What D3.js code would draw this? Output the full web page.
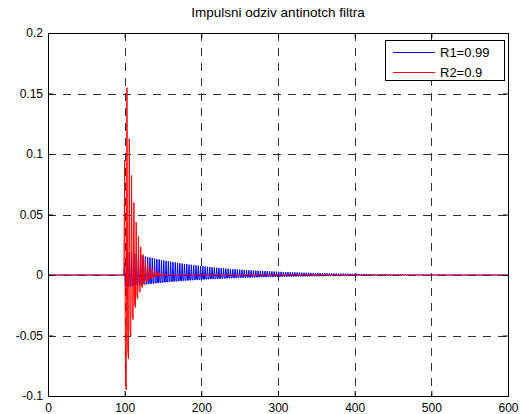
<!DOCTYPE html>
<html><head><meta charset="utf-8">
<script src="https://cdn.jsdelivr.net/npm/d3@7"></script>
<style>
body{margin:0;background:#fff}
svg{display:block}
text{font-family:Arial,"Liberation Sans",Helvetica,sans-serif;fill:#000}
</style>
</head><body>
<svg id="chart" width="524" height="414"></svg>
<script>
// ---------- data ----------
const chartTitle = "Impulsni odziv antinotch filtra";
const seriesNames = ["R1=0.99", "R2=0.9"];
const seriesColors = ["#0000ff", "#ff0000"];
const sampleDomain = [0, 600];
const valueDomain = [-0.1, 0.2];
const impulseIndex = 100;
const xTicks = [0, 100, 200, 300, 400, 500, 600];
const xTickLabels = ["0", "100", "200", "300", "400", "500", "600"];
const yTicks = [-0.1, -0.05, 0, 0.05, 0.1, 0.15, 0.2];
const yTickLabels = ["-0.1", "-0.05", "0", "0.05", "0.1", "0.15", "0.2"];

// response of R1 = 0.99, starting at the impulse sample (n = 100)
const r1Response = [
0.00995,-0.00985,-0.00995, 0.01951,-0.00956,-0.00965, 0.01893,-0.00927,-0.00937, 0.01836,-0.00900,-0.00909,
0.01782,-0.00873,-0.00882, 0.01729,-0.00847,-0.00856, 0.01678,-0.00822,-0.00830, 0.01628,-0.00798,-0.00806,
0.01579,-0.00774,-0.00782, 0.01532,-0.00751,-0.00759, 0.01487,-0.00729,-0.00736, 0.01443,-0.00707,-0.00714,
0.01400,-0.00686,-0.00693, 0.01358,-0.00666,-0.00672, 0.01318,-0.00646,-0.00652, 0.01279,-0.00627,-0.00633,
0.01241,-0.00608,-0.00614, 0.01204,-0.00590,-0.00596, 0.01168,-0.00573,-0.00578, 0.01134,-0.00556,-0.00561,
0.01100,-0.00539,-0.00544, 0.01067,-0.00523,-0.00528, 0.01036,-0.00507,-0.00513, 0.01005,-0.00492,-0.00497,
0.00975,-0.00478,-0.00483, 0.00946,-0.00464,-0.00468, 0.00918,-0.00450,-0.00454, 0.00891,-0.00436,-0.00441,
0.00864,-0.00423,-0.00428, 0.00839,-0.00411,-0.00415, 0.00814,-0.00399,-0.00403, 0.00789,-0.00387,-0.00391,
0.00766,-0.00375,-0.00379, 0.00743,-0.00364,-0.00368, 0.00721,-0.00353,-0.00357, 0.00700,-0.00343,-0.00346,
0.00679,-0.00333,-0.00336, 0.00659,-0.00323,-0.00326, 0.00639,-0.00313,-0.00316, 0.00620,-0.00304,-0.00307,
0.00602,-0.00295,-0.00298, 0.00584,-0.00286,-0.00289, 0.00567,-0.00278,-0.00280, 0.00550,-0.00269,-0.00272,
0.00534,-0.00261,-0.00264, 0.00518,-0.00254,-0.00256, 0.00502,-0.00246,-0.00249, 0.00487,-0.00239,-0.00241,
0.00473,-0.00232,-0.00234, 0.00459,-0.00225,-0.00227, 0.00445,-0.00218,-0.00220, 0.00432,-0.00212,-0.00214,
0.00419,-0.00205,-0.00207, 0.00407,-0.00199,-0.00201, 0.00395,-0.00193,-0.00195, 0.00383,-0.00188,-0.00190,
0.00372,-0.00182,-0.00184, 0.00361,-0.00177,-0.00178, 0.00350,-0.00171,-0.00173, 0.00339,-0.00166,-0.00168,
0.00329,-0.00161,-0.00163, 0.00320,-0.00157,-0.00158, 0.00310,-0.00152,-0.00153, 0.00301,-0.00147,-0.00149,
0.00292,-0.00143,-0.00144, 0.00283,-0.00139,-0.00140, 0.00275,-0.00135,-0.00136, 0.00267,-0.00131,-0.00132,
0.00259,-0.00127,-0.00128, 0.00251,-0.00123,-0.00124, 0.00244,-0.00119,-0.00121, 0.00236,-0.00116,-0.00117,
0.00229,-0.00112,-0.00114, 0.00223,-0.00109,-0.00110, 0.00216,-0.00106,-0.00107, 0.00209,-0.00103,-0.00104,
0.00203,-0.00100,-0.00101, 0.00197,-0.00097,-0.00098, 0.00191,-0.00094,-0.00095, 0.00186,-0.00091,-0.00092,
0.00180,-0.00088,-0.00089, 0.00175,-0.00086,-0.00087, 0.00170,-0.00083,-0.00084, 0.00165,-0.00081,-0.00081,
0.00160,-0.00078,-0.00079, 0.00155,-0.00076,-0.00077, 0.00150,-0.00074,-0.00074, 0.00146,-0.00072,-0.00072,
0.00142,-0.00069,-0.00070, 0.00137,-0.00067,-0.00068, 0.00133,-0.00065,-0.00066, 0.00129,-0.00063,-0.00064,
0.00125,-0.00061,-0.00062, 0.00122,-0.00060,-0.00060, 0.00118,-0.00058,-0.00059, 0.00115,-0.00056,-0.00057,
0.00111,-0.00055,-0.00055, 0.00108,-0.00053,-0.00053, 0.00105,-0.00051,-0.00052, 0.00102,-0.00050,-0.00050,
0.00099,-0.00048,-0.00049, 0.00096,-0.00047,-0.00047, 0.00093,-0.00045,-0.00046, 0.00090,-0.00044,-0.00045,
0.00087,-0.00043,-0.00043, 0.00085,-0.00042,-0.00042, 0.00082,-0.00040,-0.00041, 0.00080,-0.00039,-0.00040,
0.00078,-0.00038,-0.00038, 0.00075,-0.00037,-0.00037, 0.00073,-0.00036,-0.00036, 0.00071,-0.00035,-0.00035,
0.00069,-0.00034,-0.00034, 0.00067,-0.00033,-0.00033, 0.00065,-0.00032,-0.00032, 0.00063,-0.00031,-0.00031,
0.00061,-0.00030,-0.00030, 0.00059,-0.00029,-0.00029, 0.00057,-0.00028,-0.00028, 0.00056,-0.00027,-0.00028,
0.00054,-0.00026,-0.00027, 0.00052,-0.00026,-0.00026, 0.00051,-0.00025,-0.00025, 0.00049,-0.00024,-0.00024,
0.00048,-0.00023,-0.00024, 0.00046,-0.00023,-0.00023, 0.00045,-0.00022,-0.00022, 0.00044,-0.00021,-0.00022,
0.00042,-0.00021,-0.00021, 0.00041,-0.00020,-0.00020, 0.00040,-0.00020,-0.00020, 0.00039,-0.00019,-0.00019,
0.00038,-0.00018,-0.00019, 0.00036,-0.00018,-0.00018, 0.00035,-0.00017,-0.00018, 0.00034,-0.00017,-0.00017,
0.00033,-0.00016,-0.00017, 0.00032,-0.00016,-0.00016, 0.00031,-0.00015,-0.00016, 0.00030,-0.00015,-0.00015,
0.00030,-0.00014,-0.00015, 0.00029,-0.00014,-0.00014, 0.00028,-0.00014,-0.00014, 0.00027,-0.00013,-0.00013,
0.00026,-0.00013,-0.00013, 0.00025,-0.00012,-0.00013, 0.00025,-0.00012,-0.00012, 0.00024,-0.00012,-0.00012,
0.00023,-0.00011,-0.00011, 0.00022,-0.00011,-0.00011, 0.00022,-0.00011,-0.00011, 0.00021,-0.00010,-0.00010,
0.00020,-0.00010,-0.00010, 0.00020,-0.00010,-0.00010, 0.00019,-0.00009,-0.00010, 0.00019,-0.00009,-0.00009,
0.00018,-0.00009,-0.00009, 0.00018,-0.00009,-0.00009, 0.00017,-0.00008,-0.00008, 0.00017,-0.00008,-0.00008,
0.00016,-0.00008,-0.00008, 0.00016,-0.00008,-0.00008, 0.00015,-0.00007,-0.00007, 0.00015,-0.00007,-0.00007,
0.00014,-0.00007,-0.00007, 0.00014,-0.00007,-0.00007, 0.00013,-0.00007,-0.00007
];

// response of R2 = 0.9, starting at the impulse sample (n = 100)
const r2Response = [
0.09500,-0.08550,-0.09500, 0.15476,-0.06233,-0.06926, 0.11282,-0.04544,-0.05049,
0.08224,-0.03312,-0.03680, 0.05996,-0.02415,-0.02683, 0.04371,-0.01760,-0.01956,
0.03186,-0.01283,-0.01426, 0.02323,-0.00936,-0.01039, 0.01693,-0.00682,-0.00758,
0.01234,-0.00497,-0.00552, 0.00900,-0.00362,-0.00403, 0.00656,-0.00264,-0.00294,
0.00478,-0.00193,-0.00214, 0.00349,-0.00140,-0.00156, 0.00254,-0.00102,-0.00114,
0.00185,-0.00075,-0.00083, 0.00135,-0.00054,-0.00060, 0.00098,-0.00040,-0.00044,
0.00072,-0.00029,-0.00032, 0.00052,-0.00021,-0.00023, 0.00038,-0.00015,-0.00017
];

// ---------- layout ----------
const plot = {left: 48, right: 508, top: 33, bottom: 396};
const svg = d3.select("#chart");
const x = d3.scaleLinear().domain(sampleDomain).range([plot.left, plot.right]);
const y = d3.scaleLinear().domain(valueDomain).range([plot.bottom, plot.top]);

svg.append("rect").attr("width", 524).attr("height", 414).attr("fill", "#fff");

// grid
const grid = svg.append("g").attr("stroke", "#000").attr("stroke-width", 1)
  .attr("stroke-dasharray", "8,7").attr("shape-rendering", "crispEdges").attr("opacity", 0.8);
grid.selectAll("line.v").data(xTicks.slice(1, -1)).join("line")
  .attr("x1", d => Math.round(x(d)) + 0.5).attr("x2", d => Math.round(x(d)) + 0.5)
  .attr("y1", plot.top).attr("y2", plot.bottom);
grid.selectAll("line.h").data(yTicks.slice(1, -1)).join("line")
  .attr("y1", d => Math.round(y(d)) + 0.5).attr("y2", d => Math.round(y(d)) + 0.5)
  .attr("x1", plot.left).attr("x2", plot.right);

// series
function samples(resp) {
  const pts = [];
  for (let n = sampleDomain[0]; n <= sampleDomain[1]; n++) {
    const k = n - impulseIndex;
    pts.push([n, (k >= 0 && k < resp.length) ? resp[k] : 0]);
  }
  return pts;
}
const line = d3.line().x(d => x(d[0])).y(d => y(d[1]));
[r1Response, r2Response].forEach((resp, i) => {
  svg.append("path").datum(samples(resp))
    .attr("d", line).attr("fill", "none")
    .attr("stroke", seriesColors[i]).attr("stroke-width", 1);
});

// axes (ticks inward on all four sides)
const fontSize = 12;
const xb = svg.append("g").attr("transform", `translate(0,${plot.bottom})`)
  .call(d3.axisBottom(x).tickValues(xTicks).tickFormat((d, i) => xTickLabels[i])
    .tickSizeInner(-5).tickSizeOuter(0).tickPadding(7));
const yl = svg.append("g").attr("transform", `translate(${plot.left},0)`)
  .call(d3.axisLeft(y).tickValues(yTicks).tickFormat((d, i) => yTickLabels[i])
    .tickSizeInner(-5).tickSizeOuter(0).tickPadding(5));
const xt = svg.append("g").attr("transform", `translate(0,${plot.top})`)
  .call(d3.axisTop(x).tickValues(xTicks).tickFormat("").tickSizeInner(-5).tickSizeOuter(0));
const yr = svg.append("g").attr("transform", `translate(${plot.right},0)`)
  .call(d3.axisRight(y).tickValues(yTicks).tickFormat("").tickSizeInner(-5).tickSizeOuter(0));
[xb, yl, xt, yr].forEach(g => {
  g.select(".domain").remove();
  g.selectAll("line").attr("stroke", "#000");
  g.selectAll("text").attr("font-size", fontSize).attr("fill", "#000")
    .attr("font-family", "Arial, 'Liberation Sans', sans-serif");
});

// box
svg.append("rect").attr("x", plot.left + 0.5).attr("y", plot.top + 0.5)
  .attr("width", plot.right - plot.left).attr("height", plot.bottom - plot.top)
  .attr("fill", "none").attr("stroke", "#000").attr("stroke-width", 1);

// title
svg.append("text").attr("x", (plot.left + plot.right) / 2).attr("y", 17)
  .attr("text-anchor", "middle").attr("font-size", 13.5).text(chartTitle);

// legend
const lg = svg.append("g").attr("transform", "translate(385,40)");
lg.append("rect").attr("x", 0.5).attr("y", 0.5).attr("width", 119).attr("height", 40)
  .attr("fill", "#fff").attr("stroke", "#000");
seriesNames.forEach((name, i) => {
  const yy = 12 + i * 20;
  lg.append("line").attr("x1", 8).attr("x2", 50).attr("y1", yy + 0.5).attr("y2", yy + 0.5)
    .attr("stroke", seriesColors[i]).attr("stroke-width", 1);
  lg.append("text").attr("x", 55).attr("y", yy + 4.5).attr("font-size", 13).text(name);
});
</script>
</body></html>
